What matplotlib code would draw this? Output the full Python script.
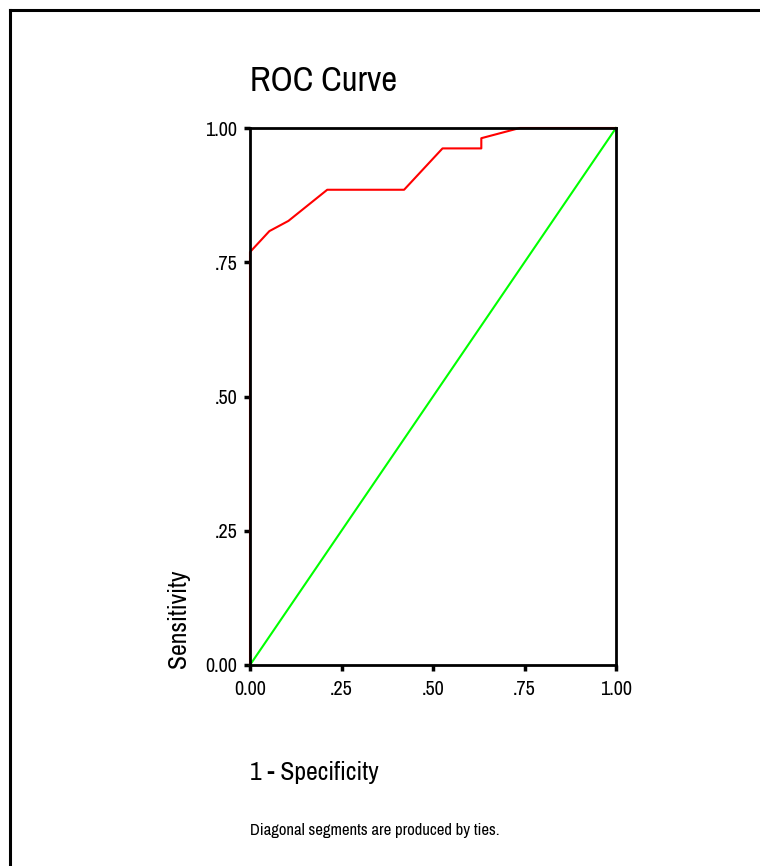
import matplotlib
matplotlib.use("Agg")
import matplotlib.pyplot as plt
from matplotlib.lines import Line2D

# ROC points (1 - specificity, sensitivity)
fpr = [0.0, 0.0, 0.053, 0.105, 0.211, 0.421, 0.526, 0.632, 0.632, 0.737, 1.0]
tpr = [0.0, 0.769, 0.808, 0.827, 0.885, 0.885, 0.962, 0.962, 0.981, 1.0, 1.0]
ref_x = [0.0, 1.0]
ref_y = [0.0, 1.0]
ticks = [0.0, 0.25, 0.5, 0.75, 1.0]
tick_labels = ["0.00", ".25", ".50", ".75", "1.00"]

W, H = 760, 866
plt.rcParams["font.family"] = ["Archivo Narrow", "Liberation Sans", "DejaVu Sans"]

fig = plt.figure(figsize=(W / 100, H / 100), dpi=100)
fig.patch.set_facecolor("white")

# outer frame (only left and top visible)
fig.add_artist(Line2D([10 / W, 10 / W], [0, 1 - 10 / H], transform=fig.transFigure,
                      color="black", lw=2.2, solid_capstyle="projecting"))
fig.add_artist(Line2D([10 / W, 1], [1 - 10 / H, 1 - 10 / H], transform=fig.transFigure,
                      color="black", lw=2.2, solid_capstyle="projecting"))

ax = fig.add_axes([250 / W, 1 - 665 / H, 366 / W, 537 / H])
ax.plot(ref_x, ref_y, color="#00ff00", lw=1.5, clip_on=False, zorder=2)
ax.plot(fpr, tpr, color="#ff0000", lw=1.5, clip_on=False, zorder=2)

ax.set_xlim(0, 1)
ax.set_ylim(0, 1)
ax.set_xticks(ticks)
ax.set_xticklabels(tick_labels)
ax.set_yticks(ticks)
ax.set_yticklabels(tick_labels)
for s in ax.spines.values():
    s.set_linewidth(2)
    s.set_zorder(3)
ax.tick_params(axis="both", direction="out", length=4, width=2.5, labelsize=14.5)
ax.tick_params(axis="x", pad=7)
ax.tick_params(axis="y", pad=5)

fig.text(250 / W, 1 - 91 / H, "ROC Curve", fontsize=25, ha="left", va="baseline")
fig.text(250 / W, 1 - 780 / H, "1 - Specificity", fontsize=18.5, ha="left", va="baseline")
fig.text(250 / W, 1 - 835 / H, "Diagonal segments are produced by ties.", fontsize=12,
         ha="left", va="baseline")
fig.text(190 / W, 1 - 668 / H, "Sensitivity", fontsize=18.5, rotation=90,
         ha="right", va="bottom")

fig.savefig("out.png", dpi=100, facecolor="white")
